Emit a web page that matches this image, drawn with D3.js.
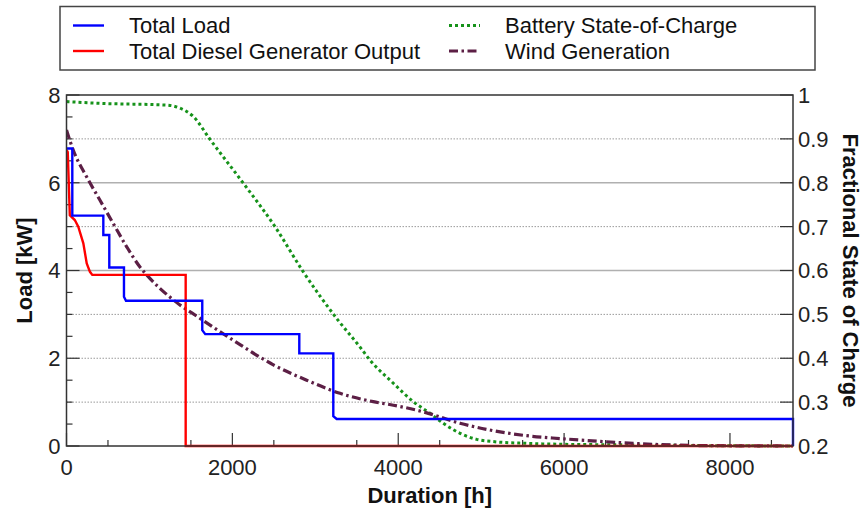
<!DOCTYPE html>
<html>
<head>
<meta charset="utf-8">
<script src="https://cdn.jsdelivr.net/npm/d3@7"></script>
<style>
  body { margin: 0; background: #fff; }
  svg { display: block; font-family: "Liberation Sans", Arial, sans-serif; }
</style>
</head>
<body>
<svg id="chart" width="865" height="512"></svg>
<script>
// ---------- Data ----------
const loadHours = [0, 70, 70, 444, 444, 516, 516, 693, 693, 717, 1637, 1637, 1673, 2807, 2807, 3217, 3217, 3258, 8760, 8760];
const loadKW    = [6.78, 6.78, 5.25, 5.25, 4.81, 4.81, 4.07, 4.07, 3.4, 3.31, 3.31, 2.64, 2.55, 2.55, 2.11, 2.11, 0.68, 0.615, 0.615, 0];

const dieselHours = [0, 15, 40, 100, 142, 203, 244, 283, 311, 1437, 1437, 8760];
const dieselKW    = [6.75, 6.7, 5.26, 5.15, 5.0, 4.62, 4.16, 3.97, 3.9, 3.9, 0, 0];

const windHours = [0, 82, 244, 404, 564, 726, 886, 967, 1288, 1610, 2011, 2494, 2896, 3298, 3699, 3941, 4300, 4744, 5146, 5549, 5949, 6400, 6834, 7638, 8760];
const windKW    = [7.2, 6.74, 6.13, 5.6, 5.07, 4.54, 4.08, 3.9, 3.33, 2.91, 2.41, 1.85, 1.5, 1.2, 1.01, 0.93, 0.78, 0.52, 0.35, 0.235, 0.17, 0.11, 0.06, 0.01, 0];

const socHours = [0, 404, 1208, 1368, 1529, 1730, 2132, 2514, 2855, 3273, 3537, 3659, 3941, 4182, 4383, 4543, 4744, 4945, 5146, 5549, 5949, 6834, 7638, 8760];
const socFrac  = [0.985, 0.981, 0.977, 0.970, 0.951, 0.899, 0.799, 0.70, 0.597, 0.487, 0.426, 0.396, 0.343, 0.301, 0.2745, 0.2517, 0.229, 0.2152, 0.21, 0.206, 0.204, 0.2025, 0.201, 0.2];

const xTicks = [0, 2000, 4000, 6000, 8000];
const yLeftTicks = [0, 2, 4, 6, 8];
const yRightTicks = [0.2, 0.3, 0.4, 0.5, 0.6, 0.7, 0.8, 0.9, 1];
const legendLabels = ["Total Load", "Total Diesel Generator Output", "Battery State-of-Charge", "Wind Generation"];

// ---------- Layout ----------
const svg = d3.select("#chart");
const L = 66.5, R = 793, T = 95, B = 446;
const FONT = 22;

const x = d3.scaleLinear().domain([0, 8760]).range([L, R]);
const yL = d3.scaleLinear().domain([0, 8]).range([B, T]);
const yR = d3.scaleLinear().domain([0.2, 1]).range([B, T]);

// Gridlines (every 1 kW)
const gridVals = d3.range(1, 8);
svg.append("g").selectAll("line").data(gridVals).join("line")
  .attr("x1", L).attr("x2", R)
  .attr("y1", d => yL(d)).attr("y2", d => yL(d))
  .attr("stroke", d => (d === 4 || d === 6) ? "#b0b0b0" : "#9a9a9a")
  .attr("stroke-width", d => (d === 4 || d === 6) ? 1.5 : 1)
  .attr("stroke-dasharray", d => (d === 4 || d === 6) ? null : "1.5,1.5");

// Left axis ticks (inward)
const leftMinor = d3.range(0, 8.01, 0.5).filter(v => !yLeftTicks.includes(v));
const axL = svg.append("g");
axL.selectAll("line.mn").data(leftMinor).join("line")
  .attr("x1", L).attr("x2", L + 6).attr("y1", d => yL(d)).attr("y2", d => yL(d))
  .attr("stroke", "#333").attr("stroke-width", 1.2);
axL.selectAll("line.mj").data(yLeftTicks).join("line")
  .attr("x1", L).attr("x2", L + 13).attr("y1", d => yL(d)).attr("y2", d => yL(d))
  .attr("stroke", "#333").attr("stroke-width", 1.2);
axL.selectAll("text").data(yLeftTicks).join("text")
  .attr("x", L - 6).attr("y", d => yL(d)).attr("dy", "0.36em")
  .attr("text-anchor", "end").attr("font-size", FONT).attr("fill", "#222")
  .text(d => d3.format("d")(d));

// Right axis ticks
const axR = svg.append("g");
axR.selectAll("line").data(yRightTicks).join("line")
  .attr("x1", R - 13).attr("x2", R).attr("y1", d => yR(d)).attr("y2", d => yR(d))
  .attr("stroke", "#333").attr("stroke-width", 1.2);
axR.selectAll("text").data(yRightTicks).join("text")
  .attr("x", R + 5).attr("y", d => yR(d)).attr("dy", "0.36em")
  .attr("text-anchor", "start").attr("font-size", FONT).attr("fill", "#222")
  .text(d => d === 1 ? "1" : d3.format(".1f")(d));

// Bottom axis ticks
const xMinor = d3.range(500, 8760, 1000);
const axB = svg.append("g");
axB.selectAll("line.mn").data(xMinor).join("line")
  .attr("x1", d => x(d)).attr("x2", d => x(d)).attr("y1", B).attr("y2", B - 6)
  .attr("stroke", "#333").attr("stroke-width", 1.2);
axB.selectAll("line.mj").data(xTicks).join("line")
  .attr("x1", d => x(d)).attr("x2", d => x(d)).attr("y1", B).attr("y2", B - 13)
  .attr("stroke", "#333").attr("stroke-width", 1.2);
axB.selectAll("text").data(xTicks).join("text")
  .attr("x", d => x(d)).attr("y", B + 21).attr("dy", "0.36em")
  .attr("text-anchor", "middle").attr("font-size", FONT).attr("fill", "#222")
  .text(d => d3.format("d")(d));

// ---------- Series ----------
const mk = (xs, ys) => xs.map((h, i) => [h, ys[i]]);
const lineL = d3.line().x(d => x(d[0])).y(d => yL(d[1]));
const lineLSmooth = d3.line().x(d => x(d[0])).y(d => yL(d[1])).curve(d3.curveMonotoneX);
const lineRSmooth = d3.line().x(d => x(d[0])).y(d => yR(d[1])).curve(d3.curveMonotoneX);

svg.append("clipPath").attr("id", "clip").append("rect")
  .attr("x", L).attr("y", T - 2).attr("width", R - L + 2).attr("height", B - T + 4);
const plot = svg.append("g").attr("clip-path", "url(#clip)");

plot.append("path").datum(mk(socHours, socFrac)).attr("d", lineRSmooth)
  .attr("fill", "none").attr("stroke", "#16921a").attr("stroke-width", 3)
  .attr("stroke-dasharray", "3,3");

plot.append("path").datum(mk(windHours, windKW)).attr("d", lineLSmooth)
  .attr("fill", "none").attr("stroke", "#5c1f45").attr("stroke-width", 3.2)
  .attr("stroke-dasharray", "9,3.5,2.5,3.5");

plot.append("path").datum(mk(dieselHours, dieselKW)).attr("d", lineL)
  .attr("fill", "none").attr("stroke", "#ff0000").attr("stroke-width", 2.4);

plot.append("path").datum(mk(loadHours, loadKW)).attr("d", lineL)
  .attr("fill", "none").attr("stroke", "#0000ff").attr("stroke-width", 2.4);

// Frame
svg.append("rect").attr("x", L).attr("y", T).attr("width", R - L).attr("height", B - T)
  .attr("fill", "none").attr("stroke", "#333").attr("stroke-width", 1.5);

// ---------- Axis titles ----------
svg.append("text")
  .attr("transform", `translate(${24},${(T + B) / 2}) rotate(-90)`)
  .attr("text-anchor", "middle").attr("dy", "0.36em")
  .attr("font-size", 22).attr("font-weight", "bold").attr("fill", "#111")
  .text("Load [kW]");
svg.append("text")
  .attr("transform", `translate(${851},${(T + B) / 2}) rotate(90)`)
  .attr("text-anchor", "middle").attr("dy", "0.36em")
  .attr("font-size", 22).attr("font-weight", "bold").attr("fill", "#111")
  .text("Fractional State of Charge");
svg.append("text")
  .attr("x", (L + R) / 2).attr("y", 495).attr("dy", "0.36em")
  .attr("text-anchor", "middle")
  .attr("font-size", 22).attr("font-weight", "bold").attr("fill", "#111")
  .text("Duration [h]");

// ---------- Legend ----------
const lg = svg.append("g");
lg.append("rect").attr("x", 60).attr("y", 6.5).attr("width", 755).attr("height", 63.5)
  .attr("fill", "#fff").attr("stroke", "#444").attr("stroke-width", 1.5);
const legendItems = [
  { label: legendLabels[0], color: "#0000ff", dash: null, w: 2.4, col: 0, row: 0 },
  { label: legendLabels[1], color: "#ff0000", dash: null, w: 2.4, col: 0, row: 1 },
  { label: legendLabels[2], color: "#16921a", dash: "3,3", w: 3, col: 1, row: 0 },
  { label: legendLabels[3], color: "#5c1f45", dash: "9,3.5,2.5,3.5", w: 3, col: 1, row: 1 }
];
const colX = [73, 449];
const rowY = [25.5, 51];
const li = lg.selectAll("g.item").data(legendItems).join("g")
  .attr("transform", d => `translate(${colX[d.col]},${rowY[d.row]})`);
li.append("line").attr("x1", 0).attr("x2", 31).attr("y1", 0).attr("y2", 0)
  .attr("stroke", d => d.color).attr("stroke-width", d => d.w)
  .attr("stroke-dasharray", d => d.dash);
li.append("text").attr("x", 56).attr("y", 0).attr("dy", "0.36em")
  .attr("font-size", FONT).attr("fill", "#111").text(d => d.label);
</script>
</body>
</html>
